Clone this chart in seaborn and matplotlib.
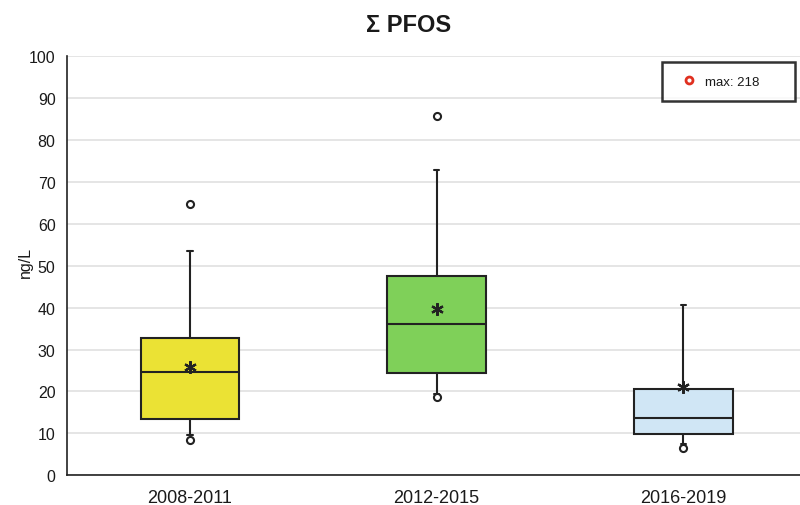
import numpy as np
import pandas as pd
import matplotlib
matplotlib.use("Agg")
import matplotlib.pyplot as plt
from matplotlib.lines import Line2D
import seaborn as sns

# --- values (ng/L) ---
periods = ["2008-2011", "2012-2015", "2016-2019"]
q1 = [13.4, 24.4, 9.8]
medians = [24.7, 36.0, 13.7]
q3 = [32.8, 47.5, 20.5]
whisker_low = [9.6, 19.5, 7.4]
whisker_high = [53.4, 72.9, 40.6]
means = [25.9, 39.7, 21.1]
outlier_period = ["2008-2011", "2008-2011", "2012-2015", "2012-2015", "2016-2019"]
outlier_value = [64.7, 8.3, 85.8, 18.6, 6.6]
max_value = 218

BOX_COLORS = ["#EBE234", "#7FD059", "#D0E6F5"]
EDGE = "#222222"

sns.set_style("white")
plt.rcParams["font.family"] = ["Liberation Sans", "DejaVu Sans"]
plt.rcParams.update({"font.size": 11, "text.color": "#1a1a1a",
                     "xtick.color": "#1a1a1a", "ytick.color": "#1a1a1a",
                     "axes.labelcolor": "#1a1a1a"})

fig = plt.figure(figsize=(8, 5.06), dpi=100)
ax = fig.add_axes([0.0833, 0.0587, 0.925, 0.8287])

stats = []
for i, p in enumerate(periods):
    stats.append({
        "label": p, "q1": q1[i], "med": medians[i], "q3": q3[i],
        "whislo": whisker_low[i], "whishi": whisker_high[i], "fliers": [],
    })

bp = ax.bxp(stats, positions=range(len(periods)), widths=0.4, patch_artist=True,
            showfliers=False, capwidths=0.022,
            boxprops=dict(edgecolor=EDGE, linewidth=1.5),
            medianprops=dict(color=EDGE, linewidth=1.5),
            whiskerprops=dict(color=EDGE, linewidth=1.5),
            capprops=dict(color=EDGE, linewidth=1.5))
for patch, c in zip(bp["boxes"], BOX_COLORS):
    patch.set_facecolor(c)

df_out = pd.DataFrame({"period": outlier_period, "value": outlier_value})
df_out["x"] = df_out["period"].map({p: i for i, p in enumerate(periods)})
sns.scatterplot(data=df_out, x="x", y="value", ax=ax, marker="o", s=26,
                facecolor="white", edgecolor=EDGE, linewidth=1.5, zorder=4)

df_mean = pd.DataFrame({"x": range(len(periods)), "mean": means})
ax.plot(df_mean["x"], df_mean["mean"], linestyle="none", marker=(6, 2, 0),
        markersize=9, markeredgewidth=1.6, color=EDGE, zorder=5)

ax.set_xlim(-0.5, 2.5)
ax.set_ylim(0, 100)
ax.set_yticks(np.arange(0, 101, 10))
ax.yaxis.grid(True, color="#e0e0e0", linewidth=1.2)
ax.set_axisbelow(True)
ax.set_xticks(range(len(periods)))
ax.set_xticklabels(periods, fontsize=13)
ax.set_xticks([0.5, 1.5], minor=True)
ax.tick_params(axis="x", which="major", length=0, pad=10)
ax.tick_params(axis="x", which="minor", length=5, width=1, color=EDGE, direction="out")
ax.tick_params(axis="y", length=5, width=1, color=EDGE, direction="out", labelsize=11.5, pad=3)
ax.set_xlabel("")
ax.set_ylabel("ng/L", fontsize=11.5)
ax.yaxis.set_label_coords(-0.045, 0.511)
for side in ["top", "right"]:
    ax.spines[side].set_visible(False)
for side in ["left", "bottom"]:
    ax.spines[side].set_color(EDGE)
    ax.spines[side].set_linewidth(1.2)

fig.text(0.511, 0.949, "Σ PFOS", ha="center", va="center", fontsize=17, fontweight="bold")

handle = Line2D([], [], linestyle="none", marker="o", markersize=5,
                markerfacecolor="white", markeredgecolor="#E03020", markeredgewidth=2)
leg = ax.legend([handle], [f"max: {max_value}"], loc="lower left", mode="expand",
                bbox_to_anchor=(662 / 800, 1 - 102 / 506, 133 / 800, 41 / 506),
                bbox_transform=fig.transFigure,
                frameon=True, fancybox=False, fontsize=9.5, borderpad=1.0,
                handlelength=2.1, handletextpad=0.15, borderaxespad=0)
leg.get_frame().set_edgecolor("black")
leg.get_frame().set_linewidth(1.8)

fig.savefig("out.png", dpi=100)
